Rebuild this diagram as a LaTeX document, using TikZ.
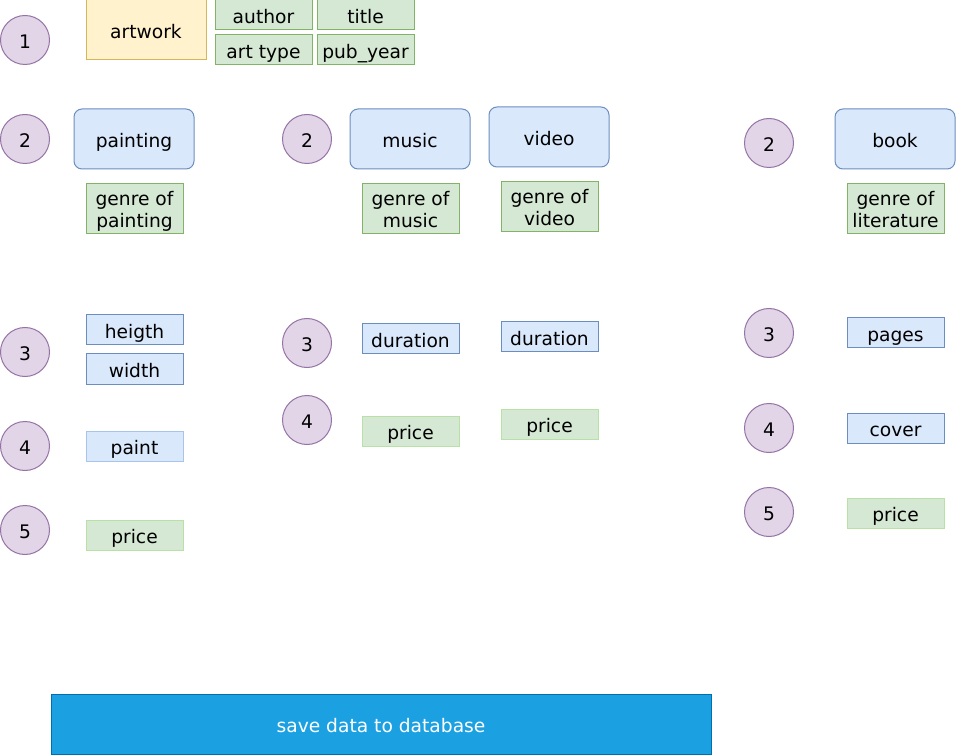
\documentclass[tikz,border=0pt]{standalone}
\usepackage{fontspec}
\setmainfont{DejaVu Sans}
\definecolor{stepfill}{HTML}{E1D5E7}
\definecolor{stepline}{HTML}{9673A6}
\definecolor{bluefill}{HTML}{DAE8FC}
\definecolor{blueline}{HTML}{6C8EBF}
\definecolor{bluefade}{HTML}{A9C4EB}
\definecolor{greenfill}{HTML}{D5E8D4}
\definecolor{greenline}{HTML}{82B366}
\definecolor{greenfade}{HTML}{B9E0A5}
\definecolor{yellowfill}{HTML}{FFF2CC}
\definecolor{yellowline}{HTML}{D6B656}
\definecolor{savefill}{HTML}{1BA1E2}
\definecolor{saveline}{HTML}{006EAF}
\begin{document}
\begin{tikzpicture}[x=0.75pt, y=-0.75pt, line width=0.75pt, font=\fontsize{14}{16.5}\selectfont,
	oneline/.style={text height=14pt, text depth=1.6pt},
	stepno/.style={circle, draw=stepline, fill=stepfill, minimum size=36.75pt, inner sep=0pt, oneline},
	entity/.style={rectangle, rounded corners=6pt, draw=blueline, fill=bluefill, minimum width=90pt, minimum height=45pt, inner sep=0pt, oneline},
	attrb/.style={rectangle, draw=blueline, fill=bluefill, minimum width=72.75pt, minimum height=22.5pt, inner sep=0pt, oneline},
	attrg/.style={rectangle, draw=greenline, fill=greenfill, minimum width=72.75pt, minimum height=22.5pt, inner sep=0pt, oneline},
	genre/.style={rectangle, draw=greenline, fill=greenfill, minimum width=72.75pt, minimum height=37.5pt, inner sep=0pt, align=center, text height=30pt, text depth=2pt}]
	\useasboundingbox (0,0) rectangle (956,755);
	% step numbers
	\node[stepno] (s1) at (25,40) {1};
	\node[stepno] (s2l) at (25,139) {2};
	\node[stepno] (s3l) at (25,352) {3};
	\node[stepno] (s4l) at (25,446) {4};
	\node[stepno] (s5l) at (25,530) {5};
	\node[stepno] (s2m) at (307,139) {2};
	\node[stepno] (s3m) at (307,343) {3};
	\node[stepno] (s4m) at (307,420) {4};
	\node[stepno] (s2r) at (769,143) {2};
	\node[stepno] (s3r) at (769,333) {3};
	\node[stepno] (s4r) at (769,428) {4};
	\node[stepno] (s5r) at (769,512) {5};
	% artwork
	\node[rectangle, draw=yellowline, fill=yellowfill, minimum width=90pt, minimum height=45pt, inner sep=0pt, oneline] (artwork) at (146,30) {artwork};
	\node[attrg] (author) at (263.5,15) {author};
	\node[attrg] (title) at (365.5,15) {title};
	\node[attrg] (arttype) at (263.5,50) {art type};
	\node[attrg] (pubyear) at (365.5,50) {pub\_year};
	% painting
	\node[entity] (painting) at (134,139) {painting};
	\node[genre] (gpainting) at (134.5,209) {genre of\\painting};
	\node[attrb] (heigth) at (134.5,330) {heigth};
	\node[attrb] (width) at (134.5,369) {width};
	\node[attrb, draw=bluefade] (paint) at (134.5,446) {paint};
	\node[attrg, draw=greenfade] (ppainting) at (134.5,535) {price};
	% music and video
	\node[entity] (music) at (410,139) {music};
	\node[entity] (video) at (549,137) {video};
	\node[genre] (gmusic) at (410.5,209) {genre of\\music};
	\node[genre] (gvideo) at (549.5,207) {genre of\\video};
	\node[attrb] (dmusic) at (410.5,339) {duration};
	\node[attrb] (dvideo) at (549.5,337) {duration};
	\node[attrg, draw=greenfade] (pmusic) at (410.5,431) {price};
	\node[attrg, draw=greenfade] (pvideo) at (549.5,424) {price};
	% book
	\node[entity] (book) at (895,139) {book};
	\node[genre] (gbook) at (895.5,209) {genre of\\literature};
	\node[attrb] (pages) at (895.5,333) {pages};
	\node[attrb] (cover) at (895.5,428) {cover};
	\node[attrg, draw=greenfade] (pbook) at (895.5,513) {price};
	% save
	\node[rectangle, draw=saveline, fill=savefill, text=white, minimum width=495pt, minimum height=45pt, inner sep=0pt, oneline] (save) at (381,724) {save data to database};
\end{tikzpicture}
\end{document}
